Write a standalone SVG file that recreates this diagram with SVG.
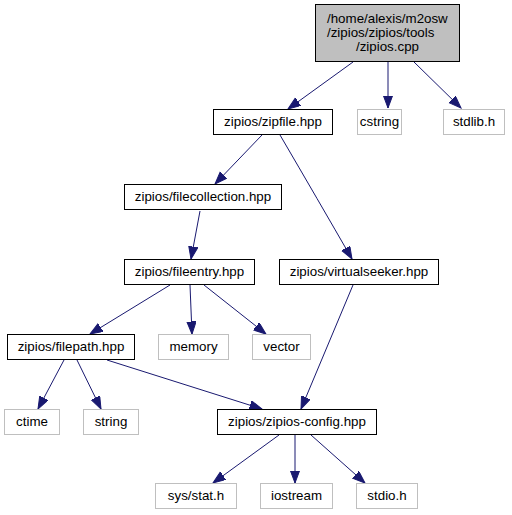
<svg xmlns="http://www.w3.org/2000/svg" width="512" height="515" viewBox="0 0 512 515">
<style>
text{font-family:"Liberation Sans",Arial,Helvetica,sans-serif;font-size:13.33px;fill:#000;text-anchor:middle}
.n rect{fill:#fff;stroke:#000;stroke-width:1}
.g rect{fill:#fff;stroke:#bfbfbf;stroke-width:1}
.e path{fill:none;stroke:#191970;stroke-width:1;marker-end:url(#ah)}
</style>
<defs>
<marker id="ah" markerUnits="userSpaceOnUse" markerWidth="14" markerHeight="11" refX="12.5" refY="4.67" orient="auto">
<path d="M0,0 L12.5,4.67 L0,9.33 z" fill="#191970" stroke="#191970" stroke-width="1"/>
</marker>
</defs>
<rect width="512" height="515" fill="#fff"/>
<g id="edges" class="e">
<path d="M353,62 L288,109"/>
<path d="M388,62 L388,108"/>
<path d="M414,62 L461,108"/>
<path d="M262,135 L215,184"/>
<path d="M280,135 Q318,200 352,259"/>
<path d="M200,211 L191,259"/>
<path d="M170,285 L90,334"/>
<path d="M190,285 L192,334"/>
<path d="M204,285 L266,334"/>
<path d="M353,285 L301,409"/>
<path d="M64,360 L38,409"/>
<path d="M77,360 L101,409"/>
<path d="M107,360 L262,409"/>
<path d="M279,435 L213,483"/>
<path d="M295,435 L295,483"/>
<path d="M311,435 L365,483"/>
</g>
<g id="zipios_cpp"><rect x="315.5" y="4.5" width="144" height="57" fill="#bfbfbf" stroke="#000"/>
<text x="327" y="22.5" style="text-anchor:start">/home/alexis/m2osw</text>
<text x="327" y="36.5" style="text-anchor:start">/zipios/zipios/tools</text>
<text x="387.5" y="50.5">/zipios.cpp</text></g>
<g id="zipfile" class="n"><rect x="213.5" y="109.5" width="119" height="25"/><text x="273" y="126">zipios/zipfile.hpp</text></g>
<g id="cstring" class="g"><rect x="357.5" y="109.5" width="44" height="25"/><text x="379.5" y="126">cstring</text></g>
<g id="stdlib" class="g"><rect x="443.5" y="109.5" width="61" height="25"/><text x="474" y="126">stdlib.h</text></g>
<g id="filecollection" class="n"><rect x="124.5" y="184.5" width="157" height="25"/><text x="203" y="201">zipios/filecollection.hpp</text></g>
<g id="fileentry" class="n"><rect x="124.5" y="259.5" width="130" height="25"/><text x="189.5" y="276">zipios/fileentry.hpp</text></g>
<g id="virtualseeker" class="n"><rect x="279.5" y="259.5" width="159" height="25"/><text x="359" y="276">zipios/virtualseeker.hpp</text></g>
<g id="filepath" class="n"><rect x="7.5" y="334.5" width="127" height="25"/><text x="71" y="351">zipios/filepath.hpp</text></g>
<g id="memory" class="g"><rect x="158.5" y="334.5" width="70" height="25"/><text x="193.5" y="351">memory</text></g>
<g id="vector" class="g"><rect x="252.5" y="334.5" width="58" height="25"/><text x="281.5" y="351">vector</text></g>
<g id="ctime" class="g"><rect x="4.5" y="409.5" width="55" height="25"/><text x="32" y="426">ctime</text></g>
<g id="string" class="g"><rect x="83.5" y="409.5" width="55" height="25"/><text x="111" y="426">string</text></g>
<g id="zipios_config" class="n"><rect x="217.5" y="409.5" width="159" height="25"/><text x="297" y="426">zipios/zipios-config.hpp</text></g>
<g id="sys_stat" class="g"><rect x="155.5" y="483.5" width="81" height="25"/><text x="196" y="500">sys/stat.h</text></g>
<g id="iostream" class="g"><rect x="260.5" y="483.5" width="72" height="25"/><text x="296.5" y="500">iostream</text></g>
<g id="stdio" class="g"><rect x="356.5" y="483.5" width="61" height="25"/><text x="387" y="500">stdio.h</text></g>
</svg>
